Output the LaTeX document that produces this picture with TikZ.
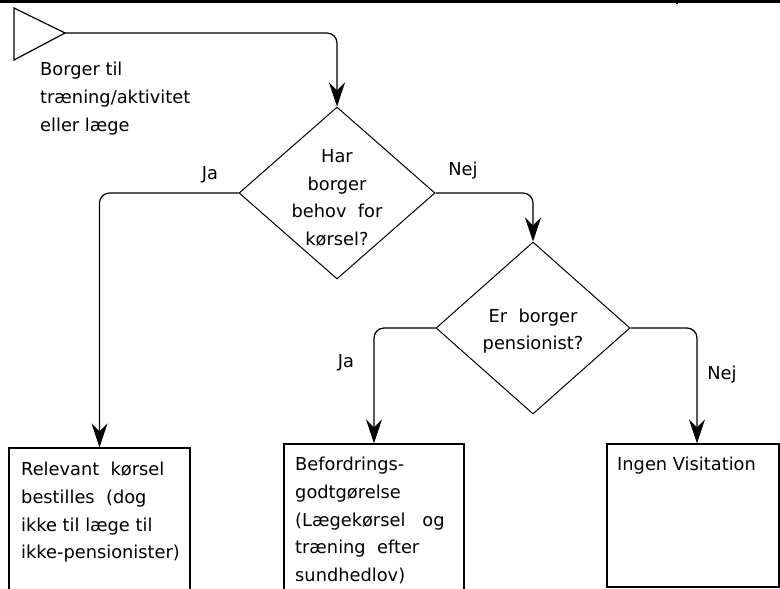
\documentclass[tikz,border=0pt]{standalone}
\usepackage{fontspec}
\setmainfont{DejaVu Sans}
\usetikzlibrary{shapes.geometric,arrows.meta}
\tikzset{
  ln/.style={line width=1.2pt},
  arr/.style={ln, rounded corners=10pt, -{Stealth[length=24pt,width=16pt,inset=8pt]}},
  dia/.style={diamond, draw, line width=1pt, inner sep=0pt, minimum width=196pt, minimum height=172pt},
  boxn/.style={rectangle, draw, line width=1.2pt, inner sep=0pt},
  txt/.style={inner sep=0pt, font=\fontsize{17.8}{27.7}\selectfont},
  lab/.style={inner sep=0pt, font=\fontsize{17.8}{21}\selectfont}
}
\begin{document}
\begin{tikzpicture}[x=1pt,y=-1pt]
\clip (0,0) rectangle (780,589);
\fill[white] (0,0) rectangle (780,589);
% top rule
\draw[line width=2.6pt] (0,1.3) -- (780,1.3);
\draw[line width=1.5pt] (677,0) -- (677,4);
% start symbol
\draw[ln] (14,8) -- (65,33) -- (14,60) -- cycle;
\coordinate (start) at (65,33);
\node[txt, anchor=north west, align=left] (starttxt) at (40,62) {Borger til\\træning/aktivitet\\eller læge};
% decision 1
\node[dia] (d1) at (337,193) {};
\node[txt, align=center] (d1txt) at (337,198) {Har\\borger\\behov\ \ for\\kørsel?};
% decision 2
\node[dia, minimum width=194pt] (d2) at (533,328) {};
\node[txt, align=center] (d2txt) at (533,331) {Er\ \ borger\\pensionist?};
% boxes
\node[boxn, minimum width=181pt, minimum height=152pt] (b1) at (99.5,524) {};
\node[boxn, minimum width=180pt, minimum height=156pt] (b2) at (374,522) {};
\node[boxn, minimum width=172pt, minimum height=143pt] (b3) at (693,515.5) {};
\node[txt, anchor=north west, align=left] (b1txt) at (21,462) {Relevant\ \ kørsel\\bestilles\ \ (dog\\ikke til læge til\\ikke-pensionister)};
\node[txt, anchor=north west, align=left] (b2txt) at (295,457) {Befordrings-\\godtgørelse\\(Lægekørsel\ \ \ og\\træning\ \ efter\\sundhedlov)};
\node[txt, anchor=north west, align=left] (b3txt) at (617,457) {Ingen Visitation};
% labels
\node[lab] (ja1) at (210,175) {Ja};
\node[lab] (nej1) at (463,171) {Nej};
\node[lab] (ja2) at (346,363) {Ja};
\node[lab] (nej2) at (722,375) {Nej};
% connectors
\draw[arr] (start) -- (d1.north |- start) -- (d1.north);
\draw[arr] (d1.west) -- (b1.north |- d1.west) -- (b1.north);
\draw[arr] (d1.east) -- (d2.north |- d1.east) -- (d2.north);
\draw[arr] (d2.west) -- (b2.north |- d2.west) -- (b2.north);
\draw[arr] (d2.east) -- ([xshift=4pt]b3.north |- d2.east) -- ([xshift=4pt]b3.north);
\end{tikzpicture}
\end{document}
